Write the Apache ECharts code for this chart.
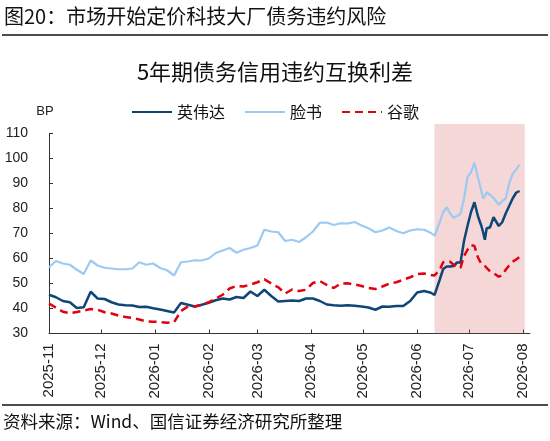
<!DOCTYPE html>
<html>
<head>
<meta charset="utf-8">
<script src="https://cdn.jsdelivr.net/npm/echarts@6/dist/echarts.min.js"></script>
<style>
html, body { margin: 0; padding: 0; background: #fff; }
#chart { width: 550px; height: 441px; }
</style>
</head>
<body>
<div id="chart"></div>
<script>
// 日期（取样点）
const dates = [
    '2025-11-01', '2025-11-05', '2025-11-09', '2025-11-13', '2025-11-17', '2025-11-21', '2025-11-25', '2025-11-29',
    '2025-12-03', '2025-12-07', '2025-12-11', '2025-12-15', '2025-12-19', '2025-12-23', '2025-12-27', '2025-12-31',
    '2026-01-04', '2026-01-08', '2026-01-12', '2026-01-16', '2026-01-20', '2026-01-24', '2026-01-28',
    '2026-02-01', '2026-02-05', '2026-02-09', '2026-02-13', '2026-02-17', '2026-02-21', '2026-02-25',
    '2026-03-01', '2026-03-05', '2026-03-09', '2026-03-13', '2026-03-17', '2026-03-21', '2026-03-25', '2026-03-29',
    '2026-04-02', '2026-04-06', '2026-04-10', '2026-04-14', '2026-04-18', '2026-04-22', '2026-04-26', '2026-04-30',
    '2026-05-04', '2026-05-08', '2026-05-12', '2026-05-16', '2026-05-20', '2026-05-24', '2026-05-28',
    '2026-06-01', '2026-06-05', '2026-06-09', '2026-06-11', '2026-06-14', '2026-06-16', '2026-06-18', '2026-06-20',
    '2026-06-22', '2026-06-24', '2026-06-26', '2026-06-28', '2026-06-30',
    '2026-07-02', '2026-07-04', '2026-07-06', '2026-07-08', '2026-07-09', '2026-07-10', '2026-07-11', '2026-07-13',
    '2026-07-15', '2026-07-16', '2026-07-18', '2026-07-20', '2026-07-22', '2026-07-24', '2026-07-26', '2026-07-28', '2026-07-30'
];

// 英伟达
const nvidia = [
    45.5, 44.5, 43, 42.5, 40.2, 40.5, 46.7, 44, 43.8, 42.5, 41.6, 41.3, 41.2, 40.6, 40.7, 40.1,
    39.6, 39, 38.4, 42.2, 41.5, 40.8, 41.5, 42.3, 43.3, 44, 43.6, 44.6, 44.2, 46.8,
    45, 47.5, 45, 42.8, 43, 43.2, 43, 44, 44, 43, 41.6, 41.3, 41.1, 41.3, 41.1, 40.8,
    40.4, 39.5, 40.8, 40.7, 41, 41, 43, 46.4, 47,
    46.3, 45.4, 51.5, 55.8, 56.8, 56.8, 57, 58.4, 58.4, 67, 73, 78.5, 82.5, 77, 73, 70.5,
    67.5, 72, 72.5, 76.5, 77, 73, 74.5, 78, 81, 84, 86.3, 87
];

// 脸书
const meta = [
    56.5, 59, 58, 57.5, 55.5, 53.8, 59.2, 57.2, 56.3, 56, 55.7, 55.7, 56, 58.5, 57.5, 58,
    56.2, 55.3, 53.2, 58.5, 58.8, 59.3, 59.2, 60, 62.2, 63.2, 64.2, 62.3, 63.5, 64.2,
    65.2, 71.5, 70.8, 70.5, 67, 67.5, 66.6, 68.5, 70.8, 74.3, 74.4, 73.4, 74.1, 74, 74.6, 73.2,
    72.1, 70.5, 71.2, 72.4, 71, 70.1, 71.2, 71.7, 71.5,
    70.2, 69.1, 74.5, 78.5, 80.5, 78, 76.3, 77, 77.8, 84, 92.5, 94.5, 98.3, 92.5, 87, 84,
    85, 86.5, 85.5, 84.2, 83.5, 81.5, 83, 84, 90, 93.8, 95.5, 97.6
];

// 谷歌
const google = [
    42, 40.3, 38.7, 38.1, 38.6, 39.2, 39.8, 39.5, 38.5, 38, 37.2, 36.6, 36.2, 35.6, 34.8, 34.7,
    34.6, 34.3, 34.5, 39, 40.8, 40.8, 41.5, 42.5, 44, 45.5, 48, 49, 48.8, 49.6,
    50.5, 51.7, 50, 48.5, 46, 47.6, 47, 47.5, 50.2, 51, 49.4, 48.2, 50, 50.1, 49.6, 49,
    48.2, 47.8, 48.8, 50, 50.5, 51.5, 52.5, 53.8, 54,
    53.4, 53.2, 55.5, 58.5, 58.8, 58.7, 57.5, 56.5, 56.3, 61, 63.5, 65.4, 65, 60.5, 57.8, 57.2,
    57, 56.7, 54.8, 54.2, 54, 52.7, 53.4, 55.5, 57.2, 58.7, 59.6, 60.6
];

const names = ['英伟达', '脸书', '谷歌'];
const shade = ['2026-06-11', '2026-08-02'];

const cjk = '"Noto Sans CJK SC", "Liberation Sans", sans-serif';

function pairs(arr) {
    return dates.map((d, i) => [d, arr[i]]);
}

let chart = echarts.init(document.getElementById('chart'));

let option = {
    animation: false,
    backgroundColor: '#fff',
    title: {
        text: '5年期债务信用违约互换利差',
        left: 'center',
        top: 56,
        textStyle: {
            fontFamily: cjk,
            fontSize: 22,
            fontWeight: 400,
            color: '#111'
        }
    },
    legend: {
        data: names,
        top: 99,
        left: 'center',
        itemWidth: 40,
        itemHeight: 14,
        itemGap: 19,
        itemStyle: { opacity: 0 },
        textStyle: {
            fontFamily: cjk,
            fontSize: 16,
            color: '#111'
        }
    },
    graphic: [
        {
            type: 'text',
            left: 4,
            top: 6,
            style: { text: '图20：市场开始定价科技大厂债务违约风险', font: '20px ' + cjk, fill: '#111' }
        },
        {
            type: 'line',
            shape: { x1: 2, y1: 35, x2: 548, y2: 35 },
            style: { stroke: '#111', lineWidth: 1.5 }
        },
        {
            type: 'line',
            shape: { x1: 2, y1: 405, x2: 548, y2: 405 },
            style: { stroke: '#111', lineWidth: 1.5 }
        },
        {
            type: 'text',
            left: 3,
            top: 413,
            style: { text: '资料来源：Wind、国信证券经济研究所整理', font: '17.5px ' + cjk, fill: '#111' }
        }
    ],
    grid: [
        { left: 49, right: 20, top: 133.5, bottom: 107.5 },
        { left: 49, right: 20, top: 124, bottom: 107.5 }
    ],
    xAxis: [
        {
            type: 'time',
            min: '2025-11-01',
            max: '2026-08-05',
            minInterval: 28 * 86400000,
            maxInterval: 31 * 86400000,
            axisLine: { lineStyle: { color: '#333', width: 1 } },
            axisTick: { show: true, inside: true, length: 4, lineStyle: { color: '#333' } },
            splitLine: { show: false },
            axisLabel: {
                formatter: '{yyyy}-{MM}',
                rotate: 90,
                fontSize: 15,
                color: '#222',
                fontFamily: 'Liberation Sans',
                margin: 10
            }
        },
        {
            type: 'time',
            gridIndex: 1,
            min: '2025-11-01',
            max: '2026-08-05',
            show: false
        }
    ],
    yAxis: [
        {
            type: 'value',
            min: 30,
            max: 110,
            interval: 10,
            name: 'BP',
            nameGap: 16,
            nameTextStyle: {
                fontFamily: 'Liberation Sans',
                fontSize: 13,
                color: '#222',
                align: 'center',
                padding: [0, 8, 0, 0]
            },
            axisLine: { show: true, lineStyle: { color: '#333', width: 1 } },
            axisTick: { show: true, inside: true, length: 4, lineStyle: { color: '#333' } },
            splitLine: { show: false },
            axisLabel: {
                fontSize: 14,
                color: '#222',
                fontFamily: 'Liberation Sans',
                margin: 21
            }
        },
        {
            type: 'value',
            gridIndex: 1,
            min: 0,
            max: 1,
            show: false
        }
    ],
    series: [
        {
            name: '英伟达',
            type: 'line',
            data: pairs(nvidia),
            symbol: 'none',
            lineStyle: { color: '#0d4677', width: 2.5 },
            itemStyle: { color: '#0d4677' }
        },
        {
            name: '脸书',
            type: 'line',
            data: pairs(meta),
            symbol: 'none',
            lineStyle: { color: '#9ccaf2', width: 2.2 },
            itemStyle: { color: '#9ccaf2' }
        },
        {
            name: '谷歌',
            type: 'line',
            data: pairs(google),
            symbol: 'none',
            lineStyle: { color: '#e3000f', width: 2.5, type: [8, 5] },
            itemStyle: { color: '#e3000f' }
        },
        {
            type: 'line',
            xAxisIndex: 1,
            yAxisIndex: 1,
            data: [],
            z: 5,
            markArea: {
                silent: true,
                itemStyle: { color: 'rgba(215, 100, 100, 0.26)' },
                data: [[{ xAxis: shade[0] }, { xAxis: shade[1] }]]
            }
        }
    ]
};

chart.setOption(option);
</script>
</body>
</html>
